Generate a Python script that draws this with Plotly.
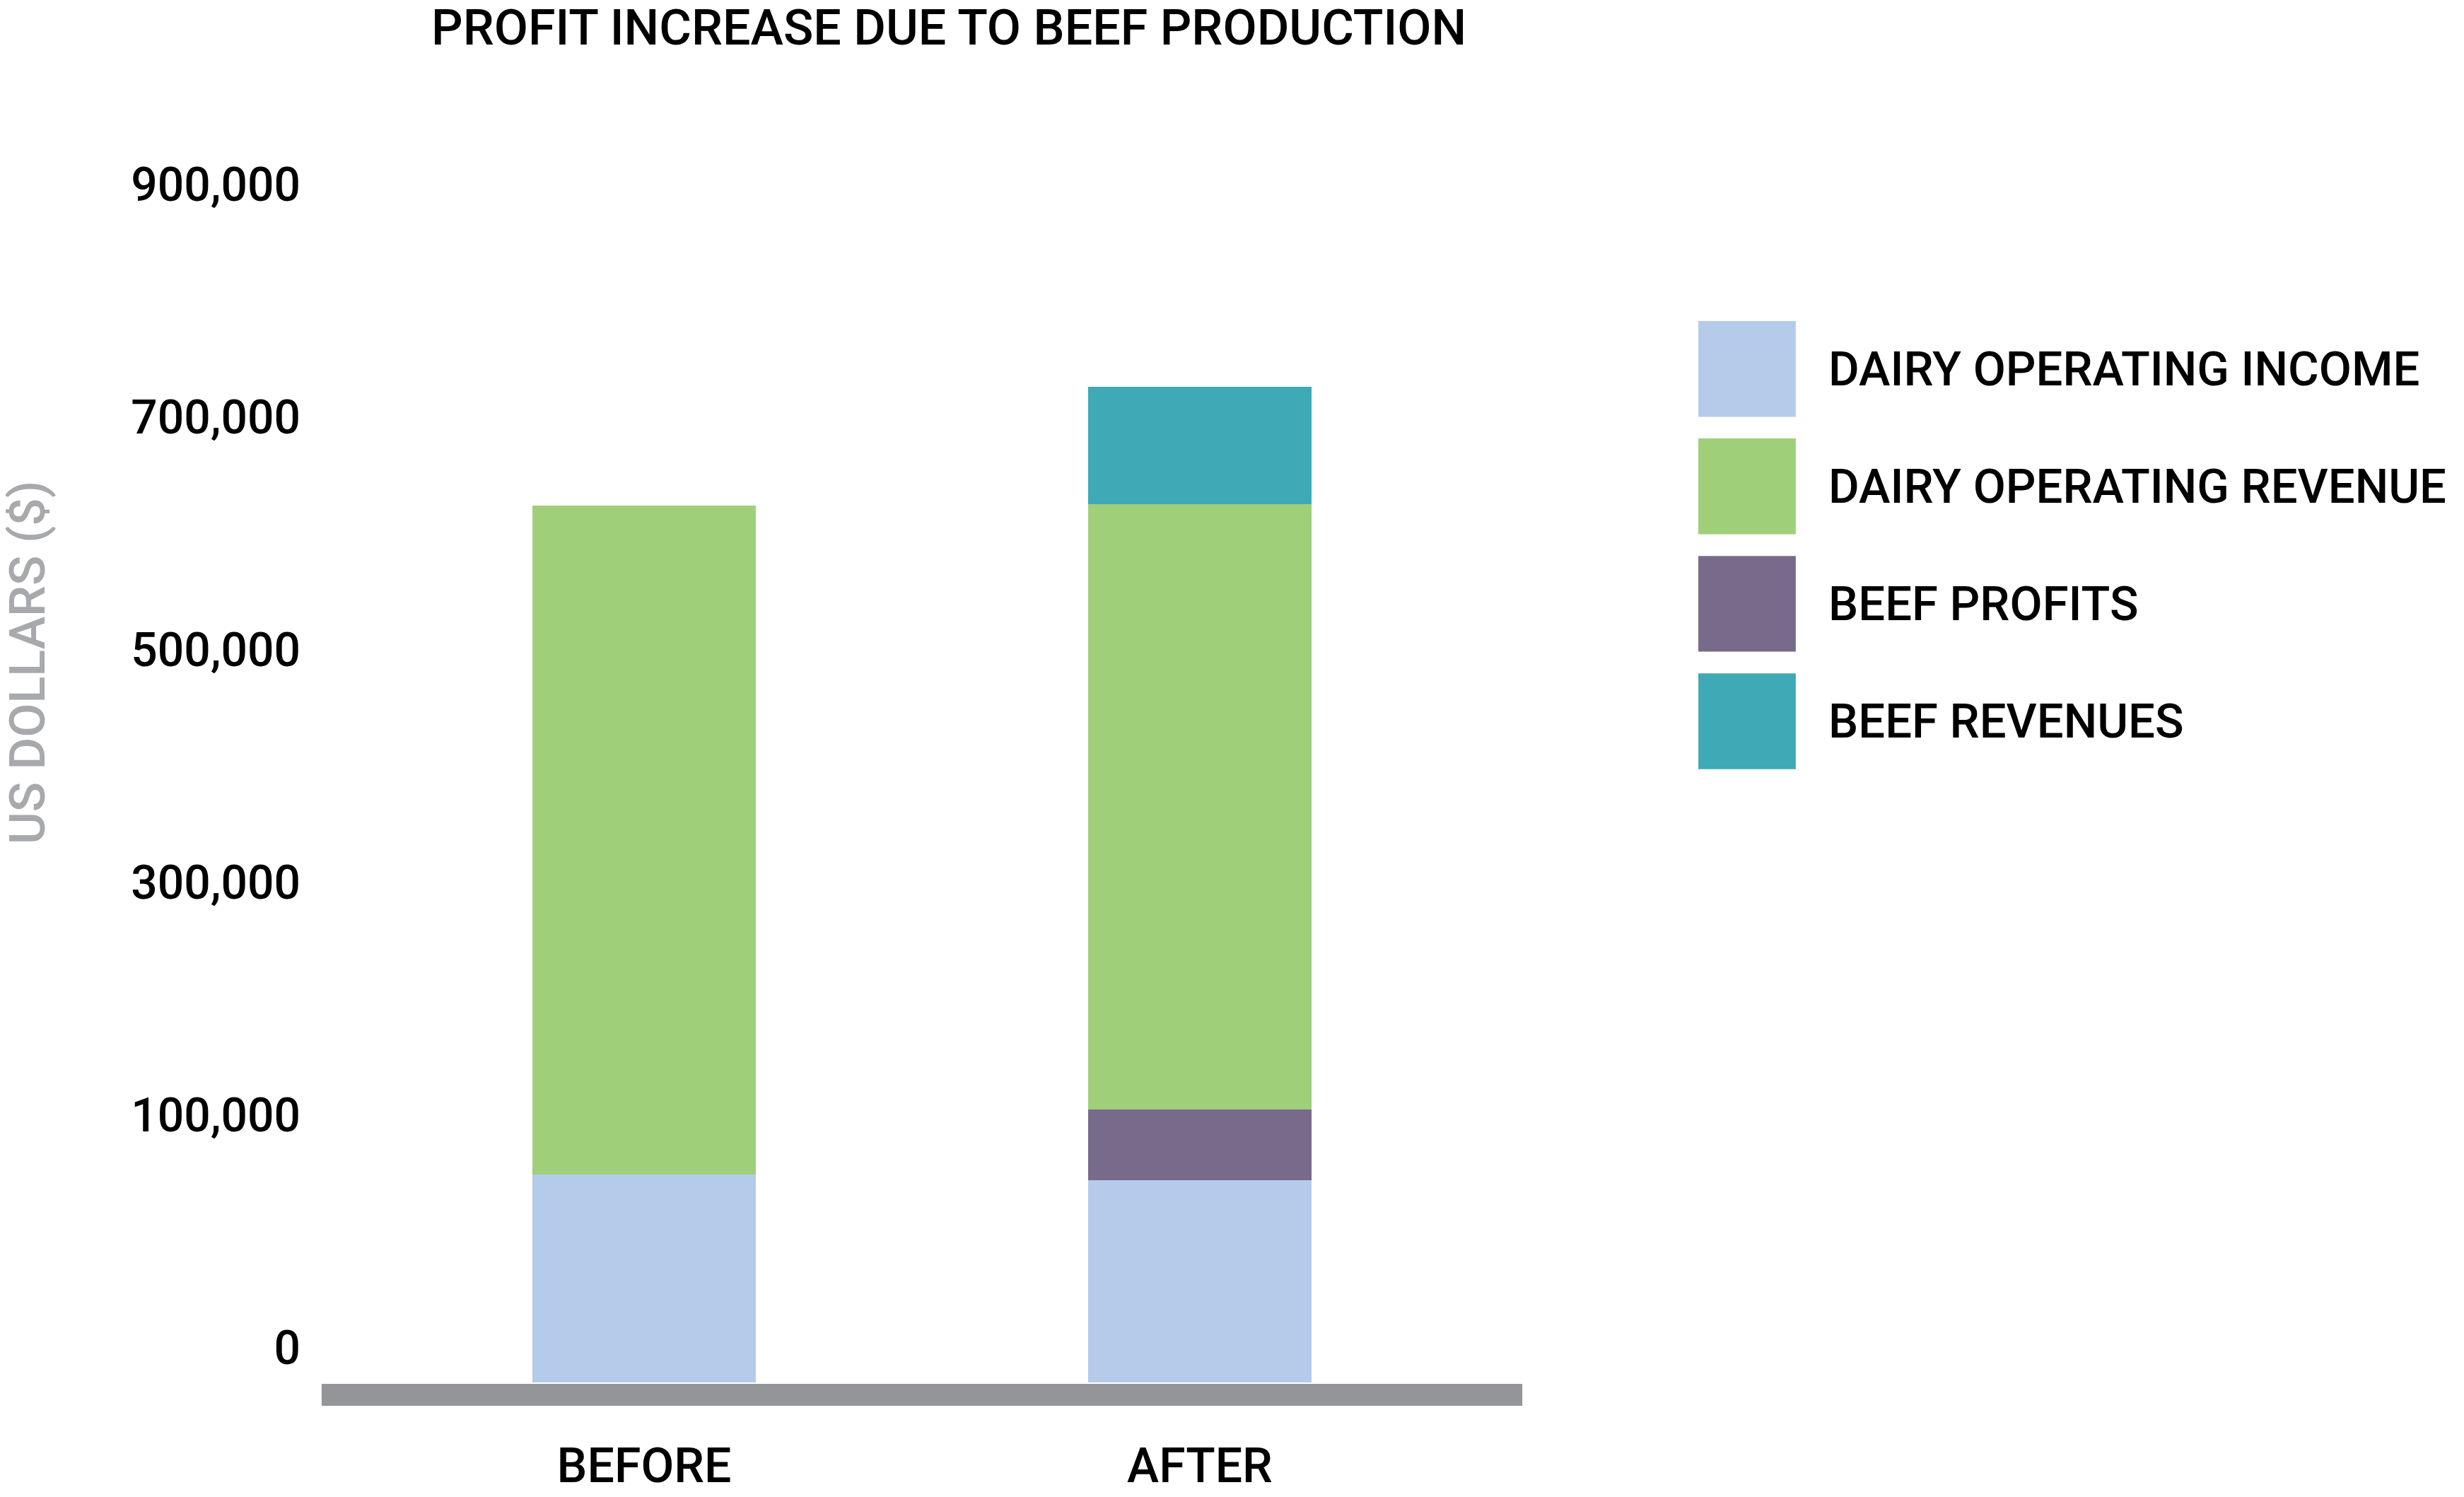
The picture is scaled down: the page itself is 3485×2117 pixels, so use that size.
import plotly.graph_objects as go

# ---- data ----
periods = ["BEFORE", "AFTER"]
period_pos = [0.271, 0.729]
dairy_income = [179000, 174000]
beef_profits = [0, 61000]
dairy_revenue = [575000, 520000]
beef_revenues = [0, 101000]

series = [
    ("DAIRY OPERATING INCOME", dairy_income, "#B5CBEA"),
    ("BEEF PROFITS", beef_profits, "#786A8A"),
    ("DAIRY OPERATING REVENUE", dairy_revenue, "#A0CF7A"),
    ("BEEF REVENUES", beef_revenues, "#3FA9B5"),
]
legend_order = ["DAIRY OPERATING INCOME", "DAIRY OPERATING REVENUE", "BEEF PROFITS", "BEEF REVENUES"]
tick_vals = [30000, 230000, 430000, 630000, 830000, 1030000]
tick_text = ["0", "100,000", "300,000", "500,000", "700,000", "900,000"]

W, H = 3485, 2117
S = W / 1568
FONT = "Roboto"


def fy(y):
    # compensate for the slight vertical squeeze of the screenshot
    return (y - 4) / 0.983


def fx(x):
    return x - 3


L, R_, T, B = fx(200) * S, fx(972) * S, fy(65) * S, fy(893) * S


def px_x(x):
    return (fx(x) * S - L) / (R_ - L)


def px_y(y):
    return (B - fy(y) * S) / (B - T)


fig = go.Figure()
for name, vals, color in series:
    fig.add_trace(go.Bar(x=period_pos, y=vals, name=name, marker_color=color,
                         marker_line_width=0, width=0.184))

colors = {n: c for n, _, c in series}
for i, name in enumerate(legend_order):
    top = 206 + i * 76
    fig.add_shape(type="rect", xref="paper", yref="paper",
                  x0=px_x(1080), x1=px_x(1142), y0=px_y(top + 62), y1=px_y(top),
                  fillcolor=colors[name], line_width=0)
    fig.add_annotation(text=name, xref="paper", yref="paper", x=px_x(1162), y=px_y(top + 31),
                       xanchor="left", yanchor="middle", showarrow=False,
                       font=dict(family=FONT, size=67, color="black", weight=500))

# axis baseline
fig.add_shape(type="line", xref="paper", yref="paper", x0=px_x(204), x1=px_x(968),
              y0=px_y(901), y1=px_y(901), line=dict(color="#939598", width=31))

fig.add_annotation(text="PROFIT INCREASE DUE TO BEEF PRODUCTION", xref="paper", yref="paper",
                   x=px_x(603), y=px_y(16), xanchor="center", yanchor="middle", showarrow=False,
                   font=dict(family=FONT, size=70, color="black", weight=500))
fig.add_annotation(text="US DOLLARS ($)", xref="paper", yref="paper", textangle=-90,
                   x=px_x(17), y=px_y(427), xanchor="center", yanchor="middle", showarrow=False,
                   font=dict(family=FONT, size=70, color="#A7A9AC", weight=500))

fig.update_layout(
    width=W, height=H, barmode="stack", showlegend=False,
    plot_bgcolor="white", paper_bgcolor="white",
    margin=dict(l=L, r=W - R_, t=T, b=H - B),
    font=dict(family=FONT, size=64, color="black"),
)
fig.update_xaxes(range=[0, 1], tickvals=period_pos, ticktext=periods, showgrid=False,
                 zeroline=False, showline=False, ticks="", ticklabelstandoff=72,
                 tickfont=dict(size=68, weight=500))
fig.update_yaxes(range=[0, 1100000], tickvals=tick_vals, ticktext=tick_text, showgrid=False,
                 zeroline=False, showline=False, ticks="", ticklabelstandoff=20,
                 tickfont=dict(size=66, weight=500))

fig.write_html("out.html")
